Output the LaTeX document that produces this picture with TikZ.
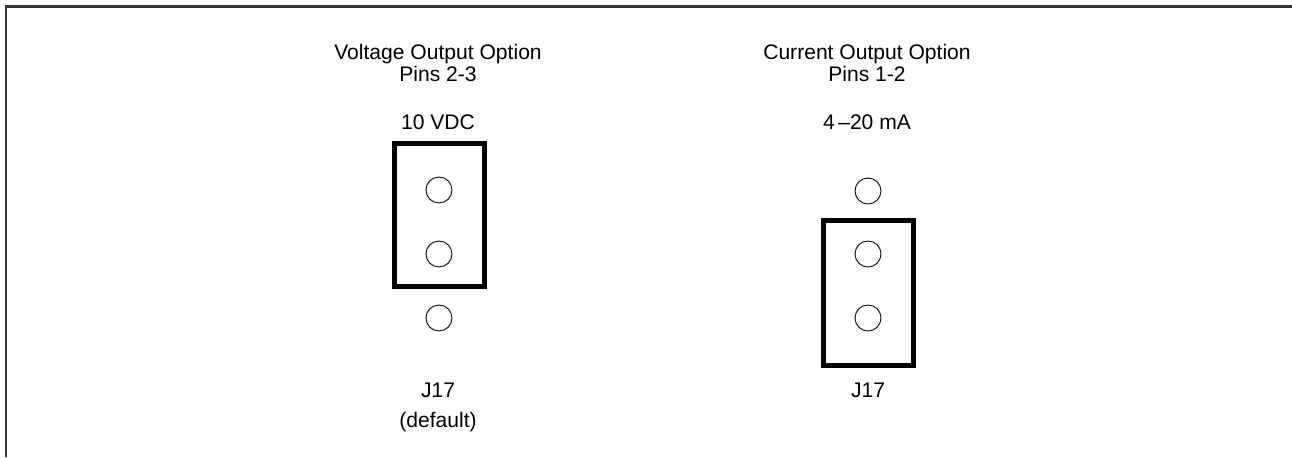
\documentclass[tikz,border=0pt]{standalone}
\usepackage{fontspec}
\setmainfont{Liberation Sans}
\usetikzlibrary{positioning}

\begin{document}
\begin{tikzpicture} [x=0.02cm, y=-0.02cm, align=center, font=\fontsize{12}{12.6}\selectfont,
	pin/.style={circle, draw, line width=0.5pt, minimum size=0.52cm, inner sep=0pt},
	jumper/.style={draw, line width=2.9pt, minimum width=1.8cm, inner sep=0pt}]
\useasboundingbox (0, 0) rectangle (1292, 457);
\draw[black!80, line width=1.2pt] (6.3, 457) -- (6.3, 6.5) -- (1292, 6.5);

% voltage output, jumper on pins 2-3
\path (438, 63) node (vtitle) {Voltage Output Option\\Pins 2-3}
	  (438, 122) node (vlabel) {10 VDC}
	  (439, 190) node[pin] (v1) {}
	  (439, 254) node[pin] (v2) {}
	  (439, 318) node[pin] (v3) {}
	  (439.5, 215) node[jumper, minimum height=2.86cm] (vjump) {}
	  (438, 390) node (vname) {J17}
	  (438, 422) node (vdef) {(default)};

% current output, jumper on pins 1-2
\path (867, 63) node (ctitle) {Current Output Option\\Pins 1-2}
	  (867, 122) node (clabel) {4\,--20 mA}
	  (868, 191) node[pin] (c1) {}
	  (868, 254) node[pin] (c2) {}
	  (868, 318) node[pin] (c3) {}
	  (868.5, 293) node[jumper, minimum height=2.9cm] (cjump) {}
	  (868, 390) node (cname) {J17};
\end{tikzpicture}
\end{document}
